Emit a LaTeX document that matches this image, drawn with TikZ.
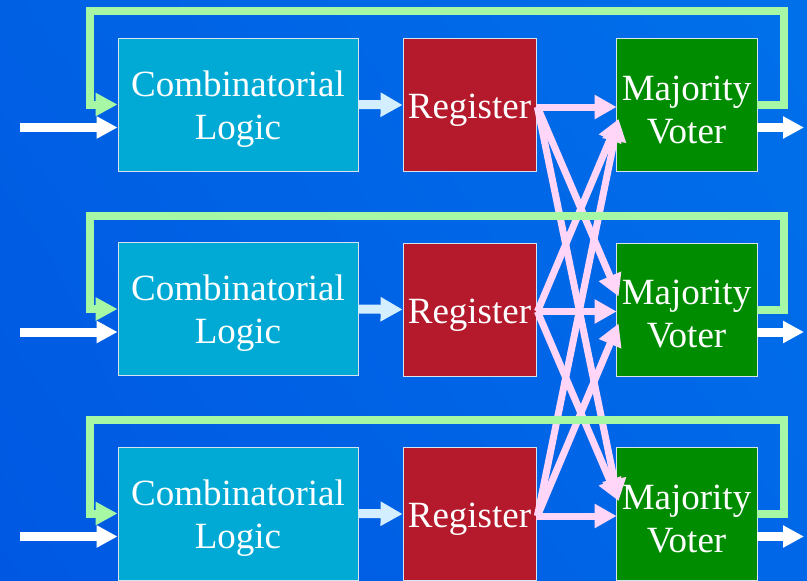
\documentclass[tikz,border=0pt]{standalone}
\usepackage{fontspec}
\setmainfont{Liberation Serif}
\usetikzlibrary{arrows.meta,calc,shadings}
\definecolor{clcol}{RGB}{0,170,212}
\definecolor{regcol}{RGB}{180,26,44}
\definecolor{votcol}{RGB}{0,140,0}
\definecolor{fbcol}{RGB}{166,248,164}
\definecolor{pinkcol}{RGB}{255,214,248}
\definecolor{lbcol}{RGB}{210,238,255}
\definecolor{boxline}{RGB}{215,228,240}
\definecolor{bgUL}{RGB}{0,96,228}
\definecolor{bgUR}{RGB}{0,112,234}
\definecolor{bgLL}{RGB}{0,88,226}
\definecolor{bgLR}{RGB}{0,104,232}
\begin{document}
\begin{tikzpicture}[x=1pt,y=-1pt,
  box/.style={draw=boxline, line width=0.8pt, text=white, align=center,
    font=\fontsize{37}{43}\selectfont, inner sep=0pt, minimum height=133pt},
  clbox/.style={box, fill=clcol, minimum width=240pt, text height=77pt},
  regbox/.style={box, fill=regcol, minimum width=133pt, text height=35pt},
  votbox/.style={box, fill=votcol, minimum width=141pt, text height=77pt},
  fb/.style={draw=fbcol, line width=8pt, line join=miter,
    -{Triangle[length=22pt,width=22pt]}, fbcol},
  inarrow/.style={draw=white, line width=9pt, -{Triangle[length=21pt,width=21pt]}, white},
  lbarrow/.style={draw=lbcol, line width=9pt, -{Triangle[length=22pt,width=23pt]}, lbcol},
  pinkarrow/.style={draw=pinkcol, line width=7pt, -{Triangle[length=22pt,width=23pt]}, pinkcol}
]
\useasboundingbox (0,0) rectangle (807,581);
\shade[upper left=bgUL, upper right=bgUR, lower left=bgLL, lower right=bgLR] (0,0) rectangle (807,581);

\foreach \r in {1,2,3}{
  \pgfmathsetmacro{\d}{(\r-1)*204.5}
  \node[clbox] (cl\r) at (238,{104.5+\d}) {Combinatorial\\Logic};
  \node[regbox] (r\r) at (469.5,{105+\d}) {Register};
  \node[votbox] (v\r) at (686.5,{105+\d}) {Majority\\Voter};
  \coordinate (tl\r) at (90,{11+\d});
  \coordinate (tr\r) at (784,{11+\d});
  \coordinate (in\r) at (20,{127.5+\d});
  \coordinate (out\r) at (804,{127.5+\d});
}

% pink register -> voter arrows
\foreach \i in {1,2,3}{
  \foreach \j in {1,2,3}{
    \ifnum\i=\j
      \draw[pinkarrow] ($(r\i.east)+(0,2)$) -- ($(v\j.west)+(1,2)$);
    \else
      \ifnum\i<\j
        \draw[pinkarrow] ($(r\i.east)+(1,2)$) -- ($(v\j.west)+(3,-13)$);
      \else
        \draw[pinkarrow] ($(r\i.east)+(1,2)$) -- ($(v\j.west)+(3,14)$);
      \fi
    \fi
  }
}

\foreach \r in {1,2,3}{
  \draw[fb] (v\r.east) -| (tr\r) -| (tl\r) |- (cl\r.west);
  \draw[inarrow] (in\r) -- (in\r -| cl\r.west);
  \draw[inarrow] (out\r -| v\r.east) -- (out\r);
  \draw[lbarrow] (cl\r.east) -- (r\r.west);
}
\end{tikzpicture}
\end{document}
